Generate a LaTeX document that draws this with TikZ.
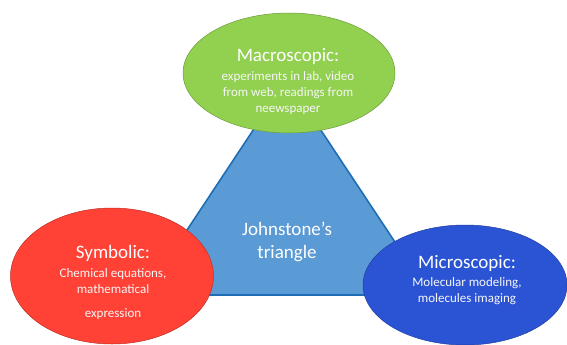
\documentclass[tikz,border=0pt]{standalone}
\usepackage{fontspec}
\setmainfont{Carlito}
\usetikzlibrary{shapes.geometric}
\definecolor{macro}{HTML}{92D050}
\definecolor{symb}{HTML}{FF4136}
\definecolor{micro}{HTML}{2B54D5}
\definecolor{trifill}{HTML}{5B9BD5}
\definecolor{triline}{HTML}{1F6DB5}
\tikzset{
  blob/.style={ellipse, inner sep=0pt, draw=#1!75!black, line width=0.5pt, fill=#1},
  title/.style={anchor=base, text=white, font=\fontsize{19}{22}\selectfont},
  body/.style={anchor=base, text=white!93!gray, font=\fontsize{13}{15}\selectfont},
}
\begin{document}
\begin{tikzpicture}[x=1pt,y=-1pt]
\useasboundingbox (0,0) rectangle (567,345);
% triangle
\coordinate (apex) at (287,79);
\coordinate (bl) at (144,295);
\coordinate (br) at (430,295);
\draw[fill=trifill, draw=triline, line width=1.6pt, line join=miter] (apex) -- (br) -- (bl) -- cycle;
\node[title] (t1) at (287,235) {Johnstone’s};
\node[title] (t2) at (287,258) {triangle};
% ellipses
\node[blob=macro, minimum width=212pt, minimum height=120pt] (macro) at (289,73) {};
\node[blob=symb, minimum width=203pt, minimum height=136pt] (symb) at (112,276) {};
\node[blob=micro, minimum width=204pt, minimum height=120pt] (micro) at (465,285) {};
% texts
\node[title] (m0) at (288,61) {Macroscopic:};
\node[body] (m1) at (288,80) {experiments in lab, video};
\node[body] (m2) at (288,96) {from web, readings from};
\node[body] (m3) at (288,112) {neewspaper};
\node[title] (s0) at (113,258) {Symbolic:};
\node[body] (s1) at (113,277) {Chemical equations,};
\node[body] (s2) at (113,293) {mathematical};
\node[body] (s3) at (113,317) {expression};
\node[title] (c0) at (467,268) {Microscopic:};
\node[body] (c1) at (467,286) {Molecular modeling,};
\node[body] (c2) at (467,302) {molecules imaging};
\end{tikzpicture}
\end{document}
